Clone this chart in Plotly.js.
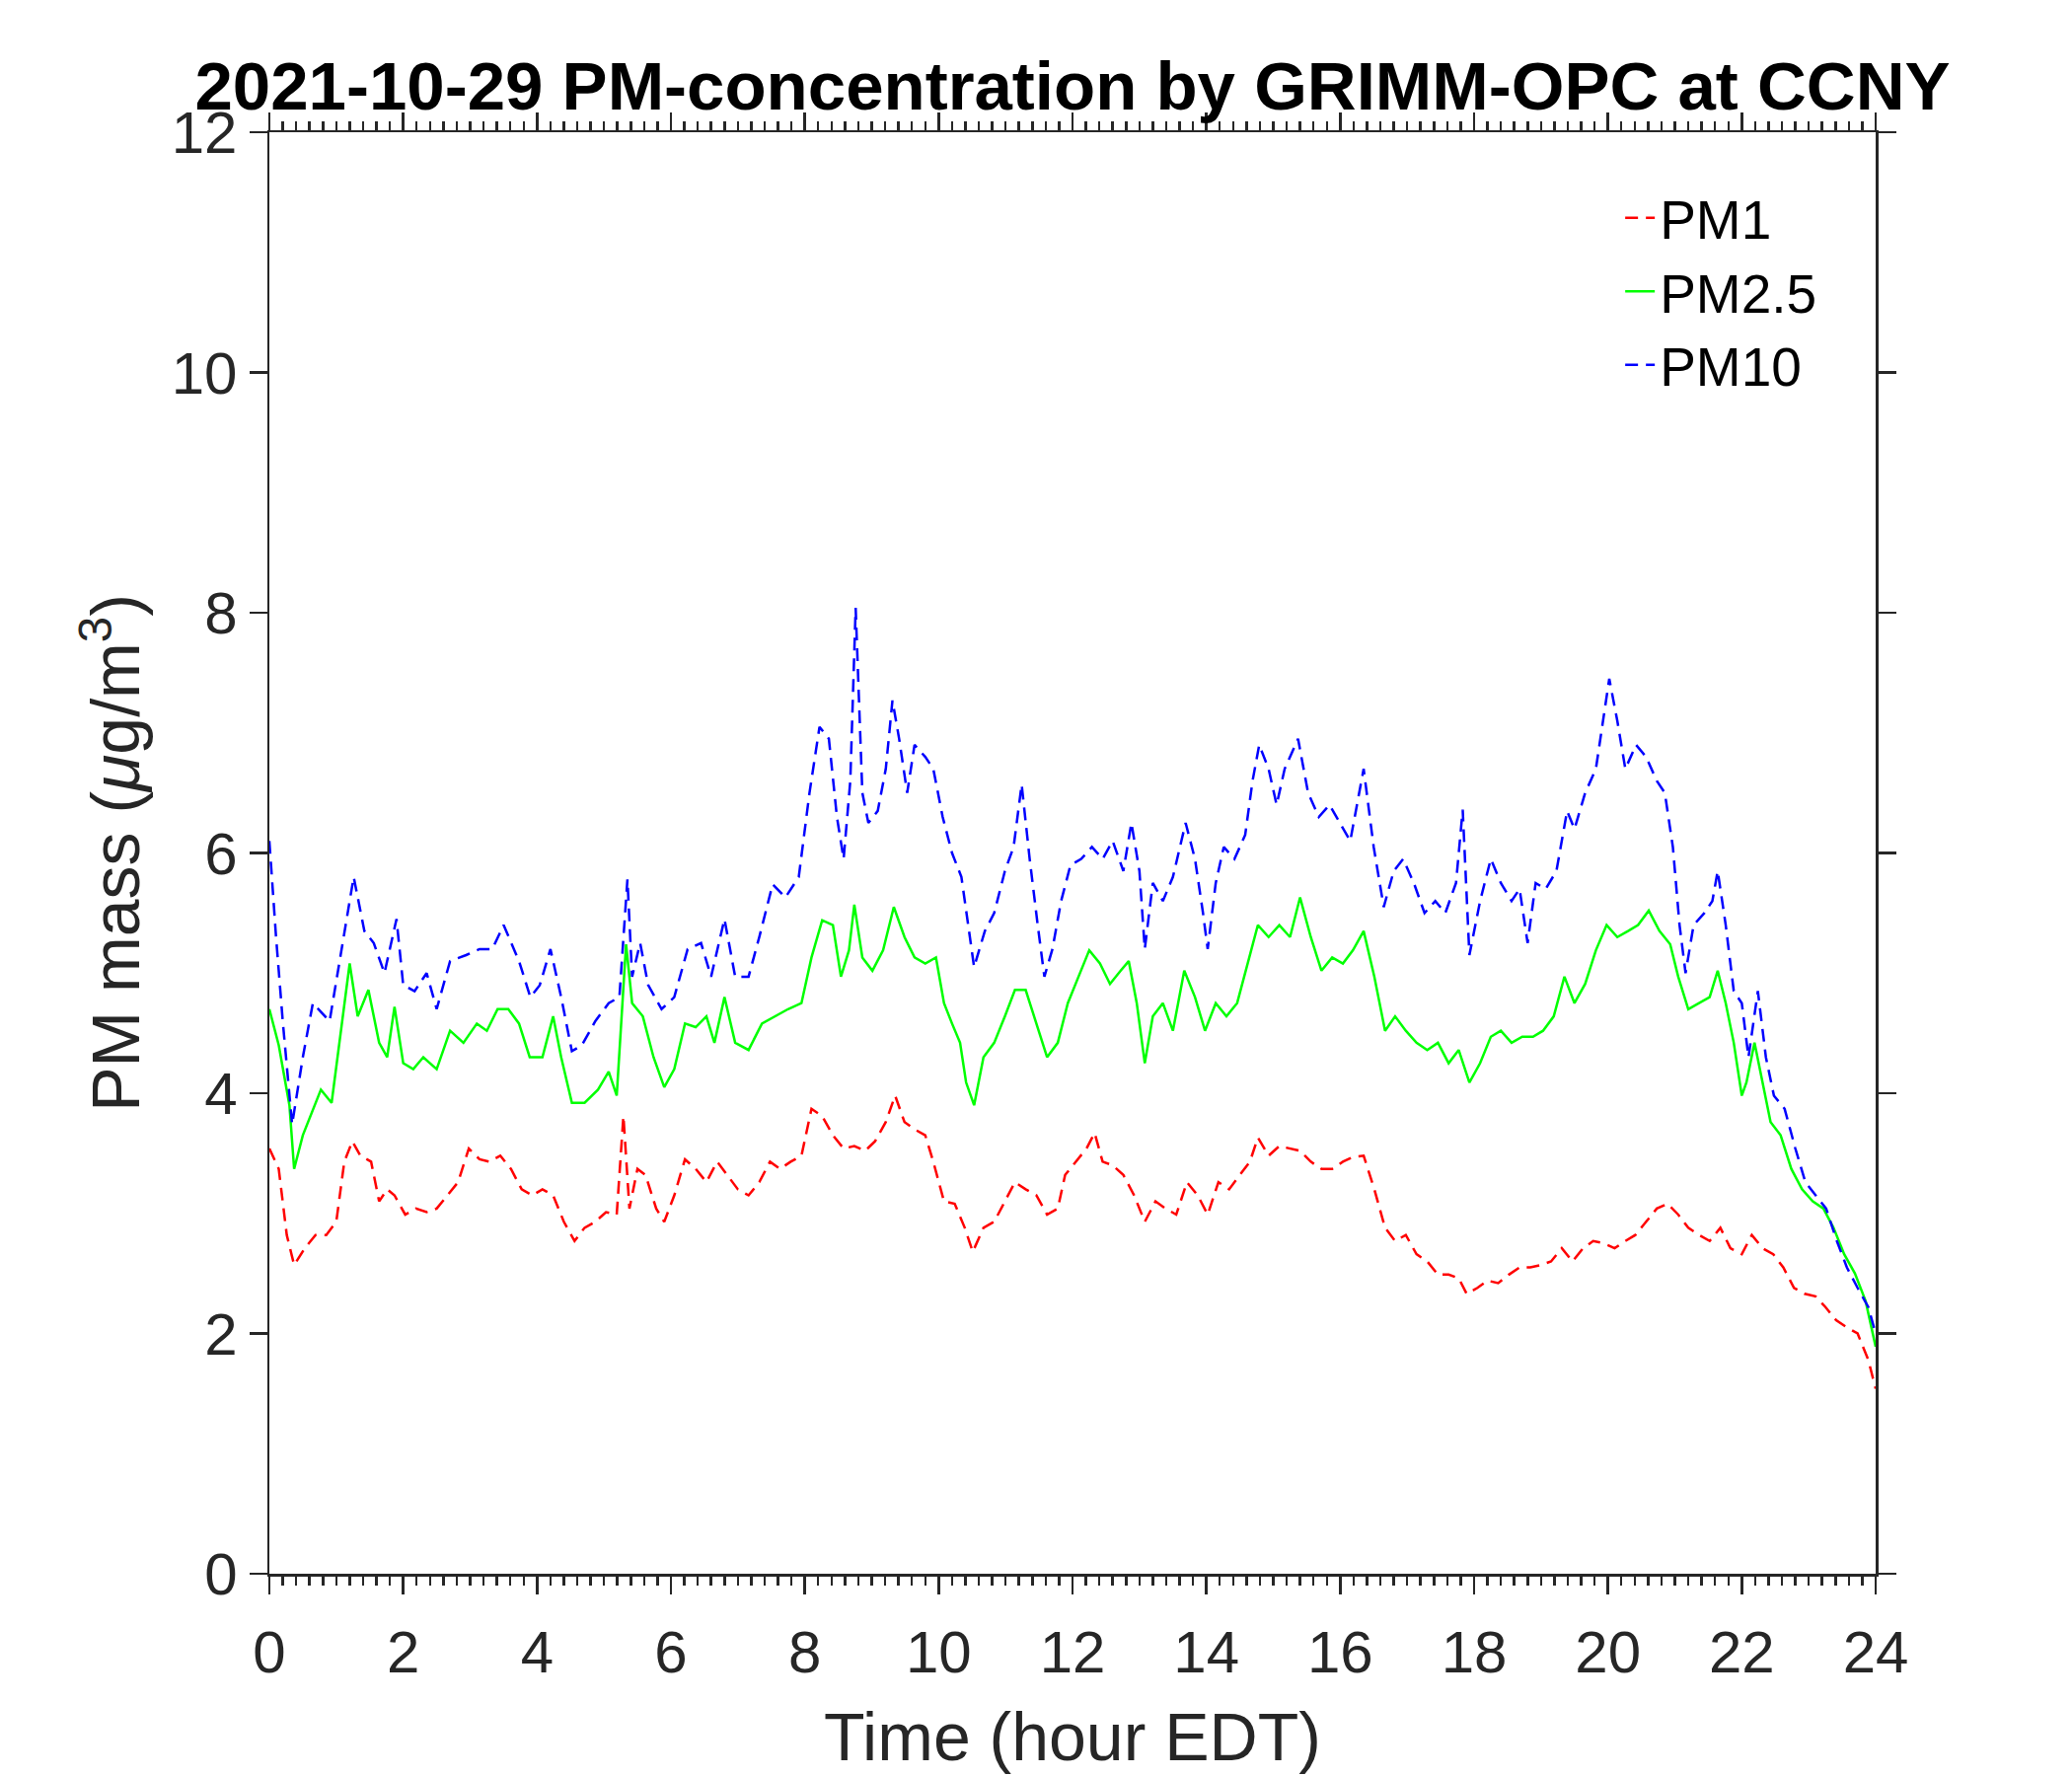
<!DOCTYPE html>
<html>
<head>
<meta charset="utf-8">
<script src="https://cdn.plot.ly/plotly-3.0.1.min.js"></script>
<style>html,body{margin:0;padding:0;background:#fff;}#chart{width:2100px;height:1800px;}</style>
</head>
<body>
<div id="chart"></div>
<script>
// ---- Data ----
const seriesNames = ["PM1", "PM2.5", "PM10"];

const hoursPM10 = [0,0.1,0.2,0.34,0.5,0.65,0.9,1.08,1.26,1.42,1.56,1.72,1.9,2.0,2.17,2.35,2.5,2.7,2.94,3.14,3.33,3.5,3.73,3.9,4.04,4.2,4.36,4.52,4.67,4.87,5.07,5.23,5.35,5.42,5.54,5.66,5.86,6.05,6.25,6.45,6.6,6.8,6.96,7.16,7.32,7.52,7.71,7.91,8.07,8.22,8.36,8.48,8.58,8.68,8.76,8.86,8.95,9.09,9.21,9.31,9.41,9.53,9.64,9.8,9.92,10.06,10.2,10.34,10.45,10.53,10.69,10.83,10.99,11.12,11.24,11.36,11.48,11.58,11.7,11.83,11.97,12.13,12.29,12.45,12.6,12.76,12.88,13.0,13.08,13.2,13.35,13.5,13.69,13.83,13.95,14.02,14.14,14.26,14.42,14.58,14.69,14.79,14.93,15.05,15.17,15.37,15.52,15.68,15.84,16.0,16.15,16.35,16.5,16.65,16.8,16.94,17.1,17.26,17.42,17.57,17.73,17.83,17.93,18.09,18.25,18.4,18.56,18.68,18.8,18.92,19.07,19.23,19.39,19.5,19.66,19.82,20.02,20.14,20.26,20.42,20.57,20.73,20.85,20.97,21.07,21.16,21.28,21.44,21.56,21.64,21.76,21.88,22.0,22.1,22.24,22.36,22.48,22.64,22.8,22.95,23.1,23.26,23.42,23.57,23.73,23.89,24.0];
const valuesPM10 = [6.1,5.3,4.6,3.74,4.3,4.75,4.6,5.2,5.8,5.35,5.25,5.0,5.45,4.9,4.85,5.0,4.7,5.1,5.15,5.2,5.2,5.4,5.1,4.8,4.9,5.2,4.8,4.35,4.4,4.6,4.75,4.8,5.78,4.97,5.25,4.9,4.7,4.8,5.2,5.25,4.97,5.45,4.97,4.97,5.3,5.74,5.63,5.8,6.5,7.05,6.95,6.3,5.95,6.6,8.04,6.5,6.25,6.35,6.7,7.27,6.95,6.5,6.9,6.8,6.7,6.3,6.0,5.8,5.35,5.05,5.35,5.5,5.85,6.05,6.57,5.95,5.4,4.97,5.2,5.6,5.9,5.95,6.05,5.95,6.1,5.85,6.25,5.85,5.2,5.75,5.6,5.8,6.25,5.95,5.5,5.2,5.75,6.05,5.95,6.15,6.6,6.9,6.7,6.4,6.7,6.95,6.5,6.3,6.4,6.25,6.1,6.7,6.05,5.55,5.85,5.95,5.75,5.5,5.6,5.5,5.75,6.36,5.15,5.6,5.95,5.75,5.6,5.7,5.25,5.75,5.7,5.85,6.35,6.2,6.5,6.7,7.45,7.1,6.7,6.9,6.8,6.6,6.5,6.05,5.4,5.0,5.4,5.5,5.6,5.85,5.4,4.85,4.75,4.3,4.85,4.3,3.98,3.87,3.54,3.26,3.15,3.04,2.77,2.55,2.38,2.22,2.0];

const hoursPM25 = [0,0.14,0.3,0.37,0.5,0.65,0.77,0.93,1.05,1.2,1.32,1.48,1.64,1.76,1.87,2.0,2.15,2.3,2.5,2.7,2.9,3.1,3.25,3.41,3.57,3.73,3.89,4.08,4.24,4.36,4.52,4.71,4.91,5.07,5.19,5.33,5.42,5.58,5.74,5.9,6.05,6.21,6.37,6.53,6.65,6.8,6.96,7.16,7.36,7.55,7.75,7.95,8.1,8.26,8.42,8.54,8.66,8.74,8.86,9.01,9.17,9.33,9.49,9.64,9.8,9.96,10.08,10.2,10.32,10.41,10.53,10.67,10.83,10.99,11.14,11.3,11.46,11.62,11.78,11.93,12.09,12.25,12.41,12.56,12.72,12.84,12.96,13.08,13.2,13.35,13.5,13.67,13.83,13.98,14.14,14.3,14.46,14.62,14.77,14.93,15.09,15.25,15.4,15.56,15.72,15.88,16.04,16.19,16.35,16.51,16.67,16.82,16.98,17.14,17.3,17.46,17.62,17.77,17.93,18.09,18.25,18.4,18.56,18.72,18.88,19.03,19.19,19.35,19.5,19.66,19.82,19.98,20.14,20.3,20.45,20.61,20.77,20.93,21.05,21.2,21.36,21.52,21.64,21.76,21.88,22.0,22.07,22.19,22.31,22.43,22.58,22.74,22.9,23.06,23.22,23.37,23.53,23.69,23.85,24.0];
const valuesPM25 = [4.7,4.4,3.9,3.37,3.65,3.87,4.03,3.92,4.42,5.08,4.64,4.86,4.42,4.3,4.72,4.25,4.2,4.3,4.2,4.52,4.42,4.58,4.52,4.7,4.7,4.58,4.3,4.3,4.64,4.3,3.92,3.92,4.03,4.18,3.98,5.24,4.75,4.64,4.3,4.05,4.2,4.58,4.55,4.64,4.42,4.8,4.42,4.36,4.58,4.64,4.7,4.75,5.13,5.44,5.4,4.97,5.19,5.57,5.13,5.02,5.19,5.55,5.3,5.13,5.08,5.13,4.75,4.58,4.42,4.09,3.9,4.3,4.42,4.64,4.86,4.86,4.58,4.3,4.42,4.75,4.97,5.19,5.08,4.91,5.02,5.1,4.75,4.25,4.64,4.75,4.52,5.02,4.8,4.52,4.75,4.64,4.75,5.08,5.4,5.3,5.4,5.3,5.63,5.3,5.02,5.13,5.08,5.19,5.35,4.97,4.52,4.64,4.52,4.42,4.36,4.42,4.25,4.36,4.09,4.25,4.47,4.52,4.42,4.47,4.47,4.52,4.64,4.97,4.75,4.91,5.19,5.4,5.3,5.35,5.4,5.52,5.35,5.24,4.97,4.7,4.75,4.8,5.02,4.75,4.42,3.98,4.09,4.42,4.09,3.76,3.65,3.37,3.2,3.1,3.04,2.88,2.66,2.5,2.27,1.89];

const hoursPM1 = [0,0.14,0.26,0.37,0.53,0.69,0.85,1.0,1.12,1.24,1.36,1.52,1.64,1.76,1.87,2.03,2.19,2.35,2.5,2.66,2.82,2.98,3.14,3.29,3.45,3.61,3.77,3.93,4.08,4.24,4.4,4.56,4.71,4.87,5.03,5.19,5.29,5.38,5.5,5.62,5.78,5.9,6.05,6.21,6.37,6.53,6.69,6.84,7.0,7.16,7.32,7.48,7.63,7.79,7.95,8.1,8.26,8.42,8.58,8.74,8.9,9.05,9.21,9.35,9.49,9.64,9.8,9.92,10.08,10.24,10.39,10.51,10.67,10.83,10.99,11.14,11.3,11.46,11.62,11.78,11.89,12.05,12.21,12.33,12.45,12.6,12.76,12.92,13.08,13.24,13.39,13.55,13.71,13.87,14.02,14.18,14.34,14.5,14.65,14.77,14.93,15.09,15.25,15.4,15.56,15.72,15.88,16.04,16.19,16.35,16.51,16.67,16.82,16.98,17.14,17.3,17.46,17.62,17.77,17.89,18.05,18.2,18.36,18.52,18.68,18.84,19.0,19.15,19.31,19.47,19.63,19.78,19.94,20.1,20.26,20.41,20.57,20.73,20.89,21.05,21.2,21.36,21.52,21.68,21.83,22.0,22.15,22.31,22.47,22.62,22.78,22.94,23.1,23.25,23.41,23.57,23.73,23.89,24.0];
const valuesPM1 = [3.54,3.37,2.82,2.57,2.71,2.82,2.82,2.93,3.43,3.6,3.48,3.43,3.1,3.2,3.15,2.99,3.04,3.01,3.04,3.15,3.26,3.54,3.45,3.43,3.48,3.37,3.2,3.15,3.2,3.15,2.93,2.77,2.88,2.93,3.01,2.99,3.81,3.04,3.37,3.32,3.04,2.93,3.15,3.45,3.37,3.26,3.43,3.32,3.2,3.15,3.26,3.43,3.37,3.43,3.48,3.87,3.81,3.65,3.54,3.56,3.52,3.6,3.76,3.98,3.76,3.7,3.65,3.43,3.1,3.08,2.88,2.68,2.88,2.93,3.1,3.26,3.2,3.15,2.99,3.04,3.32,3.43,3.54,3.67,3.43,3.4,3.32,3.15,2.93,3.1,3.04,2.99,3.26,3.15,2.99,3.26,3.2,3.32,3.43,3.63,3.48,3.56,3.54,3.52,3.43,3.37,3.37,3.43,3.47,3.48,3.2,2.88,2.77,2.82,2.66,2.6,2.49,2.49,2.46,2.33,2.38,2.44,2.42,2.49,2.55,2.55,2.57,2.6,2.71,2.6,2.71,2.77,2.75,2.71,2.77,2.82,2.93,3.04,3.08,2.99,2.88,2.82,2.77,2.88,2.71,2.66,2.82,2.71,2.66,2.55,2.38,2.33,2.31,2.22,2.11,2.05,2.0,1.78,1.54];

const xTickVals = [0,2,4,6,8,10,12,14,16,18,20,22,24];
const yTickVals = [0,2,4,6,8,10,12];

// ---- Styling ----
const axisColor = "#262626";
const fontFam = "Liberation Sans, Arial, Helvetica, sans-serif";

const traces = [
  {x: hoursPM1, y: valuesPM1, name: seriesNames[0], type: "scatter", mode: "lines",
   line: {color: "#ff0000", width: 2.5, dash: "13px,8px"}},
  {x: hoursPM25, y: valuesPM25, name: seriesNames[1], type: "scatter", mode: "lines",
   line: {color: "#00ff00", width: 2.5}},
  {x: hoursPM10, y: valuesPM10, name: seriesNames[2], type: "scatter", mode: "lines",
   line: {color: "#0000ff", width: 2.5, dash: "13px,8px"}}
];

const layout = {
  width: 2100, height: 1800,
  paper_bgcolor: "#ffffff", plot_bgcolor: "#ffffff",
  margin: {l: 273, r: 199, t: 134, b: 205, pad: 0},
  font: {family: fontFam, color: axisColor},
  title: {
    text: "<b>2021-10-29 PM-concentration by GRIMM-OPC at CCNY</b>",
    font: {family: fontFam, size: 69, color: "#000000"},
    x: 0.5, xref: "paper", xanchor: "center",
    y: 0.952, yref: "container", yanchor: "middle"
  },
  xaxis: {
    range: [0, 24], tickmode: "array", tickvals: xTickVals,
    showline: true, linecolor: axisColor, linewidth: 2.5, mirror: "ticks",
    ticks: "outside", ticklen: 18, tickwidth: 2.5, tickcolor: axisColor,
    showgrid: false, zeroline: false, ticklabelstandoff: 7,
    tickfont: {family: fontFam, size: 60, color: axisColor},
    minor: {dtick: 0.2, ticks: "outside", ticklen: 9, tickwidth: 2.5, tickcolor: axisColor, showgrid: false},
    title: {text: "Time (hour EDT)", font: {family: fontFam, size: 68, color: axisColor}, standoff: 30}
  },
  yaxis: {
    range: [0, 12], tickmode: "array", tickvals: yTickVals,
    showline: true, linecolor: axisColor, linewidth: 2.5, mirror: "ticks",
    ticks: "outside", ticklen: 18, tickwidth: 2.5, tickcolor: axisColor,
    showgrid: false, zeroline: false,
    tickfont: {family: fontFam, size: 60, color: axisColor},
    title: {text: "PM mass (<i>μ</i>g/m<sup>3</sup>)", font: {family: fontFam, size: 68, color: axisColor}, standoff: 10}
  },
  showlegend: true,
  legend: {
    x: 0.841, xanchor: "left", y: 0.9695, yanchor: "top",
    bgcolor: "rgba(255,255,255,0)", borderwidth: 0,
    font: {family: fontFam, size: 55, color: "#000000"},
    itemwidth: 30, tracegroupgap: 0
  }
};

Plotly.newPlot("chart", traces, layout, {displayModeBar: false, staticPlot: true});
</script>
</body>
</html>
